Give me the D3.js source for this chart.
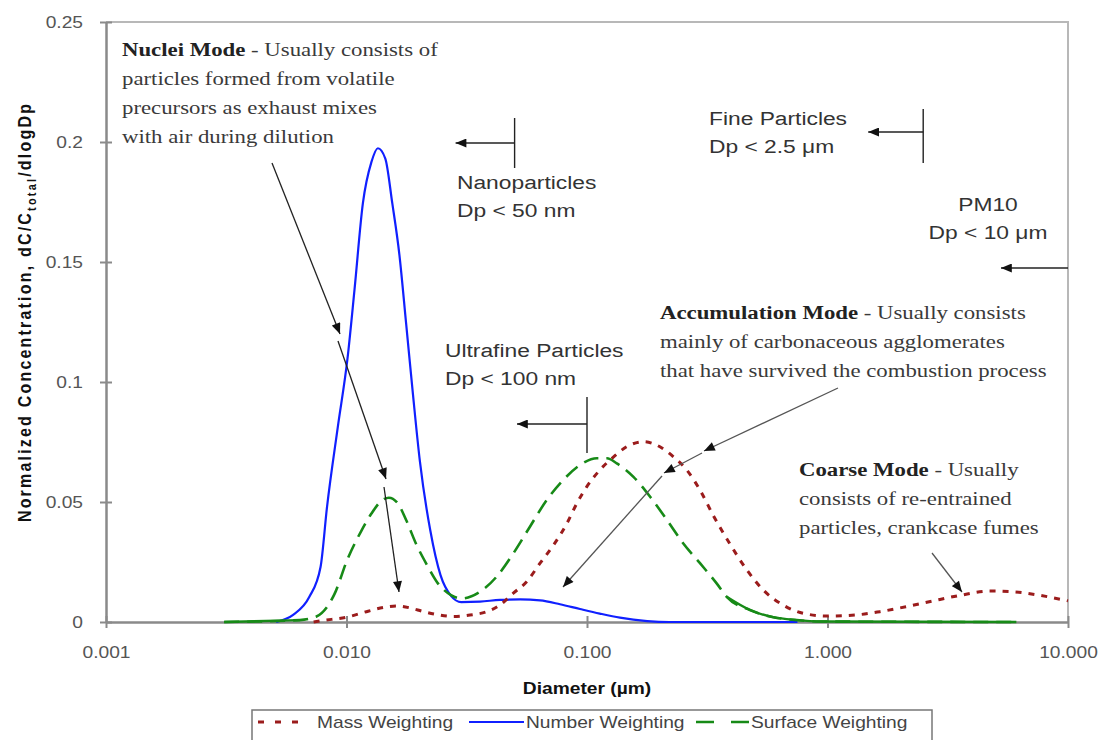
<!DOCTYPE html>
<html><head><meta charset="utf-8">
<script src="https://cdn.jsdelivr.net/npm/d3@7"></script>
<style>
html,body{margin:0;padding:0;background:#fff;}
svg{display:block;}
</style></head><body>
<svg id="chart" width="1110" height="740"></svg>
<script>
// ---- particle size distributions (diameter in µm, normalized dC/Ctotal/dlogDp) ----
const dpNumber = [0.0051, 0.0060, 0.0070, 0.0078, 0.0083, 0.0092, 0.0101, 0.0108, 0.0117, 0.0127, 0.0135, 0.0145, 0.0155, 0.0166, 0.0177, 0.0189, 0.0202, 0.0223, 0.0246, 0.0272, 0.0300, 0.0359, 0.0435, 0.0527, 0.0638, 0.0772, 0.0935, 0.113, 0.137, 0.178, 0.22, 0.75];
const numberWeighting = [0, 0.003, 0.0104, 0.0229, 0.048, 0.0812, 0.1099, 0.1386, 0.1745, 0.1917, 0.1974, 0.1931, 0.1745, 0.1529, 0.1243, 0.0947, 0.0668, 0.0382, 0.0195, 0.0109, 0.0083, 0.0085, 0.0092, 0.0094, 0.0090, 0.0074, 0.0054, 0.0035, 0.0018, 0.0004, 0, 0];

const dpSurface = [0.0031, 0.0064, 0.0075, 0.0089, 0.0101, 0.0115, 0.0127, 0.0141, 0.0150, 0.0163, 0.0177, 0.0195, 0.0216, 0.0238, 0.0272, 0.0300, 0.0359, 0.0421, 0.0494, 0.0579, 0.0680, 0.0797, 0.0935, 0.110, 0.121, 0.133, 0.156, 0.183, 0.215, 0.251, 0.295, 0.346, 0.381, 0.476, 0.595, 0.745, 0.93, 6.1];
const surfaceWeighting = [0, 0.0008, 0.0023, 0.0115, 0.0262, 0.0378, 0.0452, 0.0508, 0.0518, 0.0496, 0.0425, 0.0324, 0.0238, 0.0166, 0.0112, 0.0098, 0.0126, 0.0189, 0.0286, 0.0397, 0.0508, 0.0592, 0.0654, 0.0682, 0.0682, 0.0661, 0.0605, 0.0522, 0.0425, 0.0328, 0.0245, 0.0161, 0.0105, 0.0050, 0.0020, 0.0008, 0.0002, 0];

const dpMass = [0.0073, 0.0078, 0.0100, 0.0123, 0.0145, 0.0162, 0.0185, 0.0208, 0.0237, 0.0278, 0.0326, 0.0383, 0.0435, 0.0494, 0.0561, 0.0638, 0.0725, 0.0824, 0.0906, 0.0997, 0.113, 0.129, 0.146, 0.172, 0.201, 0.229, 0.260, 0.295, 0.335, 0.393, 0.462, 0.541, 0.655, 0.793, 1.00, 1.30, 1.65, 2.13, 2.75, 3.56, 4.74, 5.90, 7.65, 10.0];
const massWeighting = [0, 0.0005, 0.0020, 0.0045, 0.0062, 0.0067, 0.0058, 0.0044, 0.0031, 0.0023, 0.0029, 0.0043, 0.0071, 0.0120, 0.0168, 0.0245, 0.0320, 0.0410, 0.0493, 0.0563, 0.0633, 0.0688, 0.0730, 0.0751, 0.0730, 0.0688, 0.0633, 0.0550, 0.0444, 0.0325, 0.0217, 0.0133, 0.0070, 0.0036, 0.0025, 0.0029, 0.0043, 0.0064, 0.0088, 0.0111, 0.0129, 0.0126, 0.0111, 0.0088];

const xTicks = [0.001, 0.01, 0.1, 1, 10];
const yTicks = [0, 0.05, 0.1, 0.15, 0.2, 0.25];
const seriesNames = ["Mass Weighting", "Number Weighting", "Surface Weighting"];

// ---- layout ----
const svg = d3.select("#chart");
const plot = {left: 106, right: 1068, top: 22, bottom: 622};
const SX = 1.2;                       // horizontal glyph stretch used for all text
const SANS = "'Liberation Sans', Arial, sans-serif";
const SERIF = "'Liberation Serif', 'Times New Roman', serif";
const AXIS_GREY = "#8a8a8a";

const x = d3.scaleLog().domain([0.001, 10]).range([plot.left, plot.right]);
const y = d3.scaleLinear().domain([0, 0.25]).range([plot.bottom, plot.top]);

svg.append("rect").attr("width", 1110).attr("height", 740).attr("fill", "#fff");

// arrowhead marker
const defs = svg.append("defs");
defs.append("marker").attr("id", "head")
  .attr("viewBox", "0 0 12 10").attr("refX", 12).attr("refY", 5)
  .attr("markerWidth", 12).attr("markerHeight", 9)
  .attr("markerUnits", "userSpaceOnUse").attr("orient", "auto")
  .append("path").attr("d", "M0,0L12,5L0,10Z").attr("fill", "#111");

// plot frame (top and right edges)
svg.append("path")
  .attr("d", `M${x(0.001)},${y(0.25)}H${x(10)}V${y(0)}`)
  .attr("fill", "none").attr("stroke", "#b8b8b8").attr("stroke-width", 2);

// y axis
const gy = svg.append("g").attr("transform", `translate(${plot.left},0)`)
  .call(d3.axisLeft(y).tickValues(yTicks).tickFormat(d3.format("~g"))
    .tickSizeInner(6).tickSizeOuter(0).tickPadding(17));
gy.select(".domain").attr("stroke", AXIS_GREY).attr("stroke-width", 2.5);
gy.selectAll(".tick line").attr("x1", 6).attr("stroke", AXIS_GREY).attr("stroke-width", 2);
gy.selectAll(".tick text").attr("x", -23 / SX).attr("transform", `scale(${SX},1)`)
  .attr("font-family", SANS).attr("font-size", 16).attr("fill", "#555");

// x axis
const gx = svg.append("g").attr("transform", `translate(0,${plot.bottom})`)
  .call(d3.axisBottom(x).tickValues(xTicks).tickFormat(d3.format(".3f"))
    .tickSizeInner(6).tickSizeOuter(0).tickPadding(19));
gx.select(".domain").attr("stroke", AXIS_GREY).attr("stroke-width", 2.5);
gx.selectAll(".tick line").attr("y1", -6).attr("stroke", AXIS_GREY).attr("stroke-width", 2);
gx.selectAll(".tick text").attr("transform", `scale(${SX},1)`)
  .attr("font-family", SANS).attr("font-size", 16).attr("fill", "#555");

// axis titles
svg.append("text")
  .attr("transform", `translate(587,694) scale(${SX},1)`)
  .attr("text-anchor", "middle").attr("font-family", SANS).attr("font-weight", "bold")
  .attr("font-size", 16).attr("fill", "#111").text("Diameter (µm)");

const yTitle = svg.append("text")
  .attr("transform", `translate(31,312) scale(${SX},1) rotate(-90)`)
  .attr("text-anchor", "middle").attr("font-family", SANS).attr("font-weight", "bold")
  .attr("font-size", 16).attr("fill", "#111").attr("letter-spacing", 2.2);
yTitle.append("tspan").text("Normalized Concentration, dC/C");
yTitle.append("tspan").attr("font-size", 11).attr("dy", 4).text("total");
yTitle.append("tspan").attr("dy", -4).text("/dlogDp");

// ---- curves ----
const zip = (dp, v) => dp.map((d, i) => ({dp: d, v: v[i]}));
const massData = zip(dpMass, massWeighting);
const numberData = zip(dpNumber, numberWeighting);
const surfaceData = zip(dpSurface, surfaceWeighting);

const line = d3.line().x(d => x(d.dp)).y(d => y(d.v)).curve(d3.curveMonotoneX);

const styles = {
  "Mass Weighting":    {color: "#9b1c1c", width: 3,   dash: "6,7"},
  "Number Weighting":  {color: "#1020ff", width: 2.2, dash: null},
  "Surface Weighting": {color: "#178a17", width: 2.6, dash: "15,8"}
};

svg.append("path").datum(numberData).attr("d", line)
  .attr("fill", "none").attr("stroke", styles["Number Weighting"].color)
  .attr("stroke-width", styles["Number Weighting"].width);

svg.append("path").datum(surfaceData).attr("d", line)
  .attr("fill", "none").attr("stroke", styles["Surface Weighting"].color)
  .attr("stroke-width", styles["Surface Weighting"].width)
  .attr("stroke-dasharray", styles["Surface Weighting"].dash);
// the flat tails of the surface curve render as a continuous stroke
[surfaceData.filter(d => d.dp <= 0.0064), surfaceData.filter(d => d.dp >= 0.381)].forEach(part => {
  svg.append("path").datum(part).attr("d", line)
    .attr("fill", "none").attr("stroke", styles["Surface Weighting"].color)
    .attr("stroke-width", 2.4);
});

svg.append("path").datum(massData).attr("d", line)
  .attr("fill", "none").attr("stroke", styles["Mass Weighting"].color)
  .attr("stroke-width", styles["Mass Weighting"].width)
  .attr("stroke-dasharray", styles["Mass Weighting"].dash);

// ---- size class boundaries ----
const sizeClasses = [
  {dp: 0.05, lines: ["Nanoparticles", "Dp < 50 nm"],        tx: 457, ty: 189, anchor: "start",  vTop: 118, vBot: 168, ay: 143, len: 59},
  {dp: 0.1,  lines: ["Ultrafine Particles", "Dp < 100 nm"], tx: 445, ty: 357, anchor: "start",  vTop: 397, vBot: 453, ay: 424, len: 70},
  {dp: 2.5,  lines: ["Fine Particles", "Dp < 2.5 μm"],      tx: 709, ty: 125, anchor: "start",  vTop: 109, vBot: 163, ay: 132, len: 55},
  {dp: 10,   lines: ["PM10", "Dp < 10 μm"],                  tx: 988, ty: 211, anchor: "middle", vTop: null, vBot: null, ay: 268, len: 67}
];
sizeClasses.forEach(c => {
  const bx = x(c.dp);
  if (c.vTop !== null) {
    svg.append("line").attr("x1", bx).attr("x2", bx).attr("y1", c.vTop).attr("y2", c.vBot)
      .attr("stroke", "#222").attr("stroke-width", 1.4);
  }
  svg.append("line").attr("x1", bx).attr("x2", bx - c.len).attr("y1", c.ay).attr("y2", c.ay)
    .attr("stroke", "#222").attr("stroke-width", 1.4).attr("marker-end", "url(#head)");
  c.lines.forEach((s, i) => {
    svg.append("text").attr("transform", `translate(${c.tx},${c.ty + i * 28}) scale(${SX},1)`)
      .attr("text-anchor", c.anchor).attr("font-family", SANS).attr("font-size", 19)
      .attr("fill", "#333").text(s);
  });
});

// ---- mode descriptions ----
const modeNotes = [
  {x: 122, y: 56, lines: [
    [{t: "Nuclei Mode", b: true}, {t: " - Usually consists of"}],
    [{t: "particles formed from volatile"}],
    [{t: "precursors as exhaust mixes"}],
    [{t: "with air during dilution"}]]},
  {x: 660, y: 319, lines: [
    [{t: "Accumulation Mode", b: true}, {t: " - Usually consists"}],
    [{t: "mainly of carbonaceous agglomerates"}],
    [{t: "that have survived the combustion process"}]]},
  {x: 799, y: 476, lines: [
    [{t: "Coarse Mode", b: true}, {t: " - Usually"}],
    [{t: "consists of re-entrained"}],
    [{t: "particles, crankcase fumes"}]]}
];
modeNotes.forEach(n => {
  n.lines.forEach((parts, i) => {
    const t = svg.append("text").attr("transform", `translate(${n.x},${n.y + i * 29}) scale(${SX},1)`)
      .attr("font-family", SERIF).attr("font-size", 19).attr("fill", "#3a3a3a");
    parts.forEach(p => t.append("tspan").attr("font-weight", p.b ? "bold" : "normal")
      .attr("fill", p.b ? "#222" : null).text(p.t));
  });
});

// pointer arrows from the mode descriptions to the curves
const pointers = [
  {pts: [[272, 163], [340, 334]], color: "#222"},
  {pts: [[338, 341], [386, 479]], color: "#222"},
  {pts: [[384, 487], [399, 592]], color: "#222"},
  {pts: [[838, 388], [704, 451]], color: "#555"},
  {pts: [[702, 453], [664, 473]], color: "#555"},
  {pts: [[662, 476], [563, 587]], color: "#555"},
  {pts: [[932, 553], [962, 592]], color: "#555"}
];
pointers.forEach(p => {
  svg.append("line").attr("x1", p.pts[0][0]).attr("y1", p.pts[0][1])
    .attr("x2", p.pts[1][0]).attr("y2", p.pts[1][1])
    .attr("stroke", p.color).attr("stroke-width", 1.3).attr("marker-end", "url(#head)");
});

// ---- legend ----
const legend = svg.append("g");
legend.append("rect").attr("x", 252).attr("y", 710).attr("width", 680).attr("height", 31)
  .attr("fill", "#fff").attr("stroke", "#777").attr("stroke-width", 1.5);
const legendSlots = [{x0: 258, x1: 302, tx: 317}, {x0: 469, x1: 524, tx: 526}, {x0: 696, x1: 749, tx: 751}];
seriesNames.forEach((name, i) => {
  const s = styles[name], slot = legendSlots[i];
  legend.append("line").attr("x1", slot.x0).attr("x2", slot.x1).attr("y1", 722).attr("y2", 722)
    .attr("stroke", s.color).attr("stroke-width", s.width)
    .attr("stroke-dasharray", name === "Mass Weighting" ? "6,11" : (s.dash ? "18,17" : null));
  legend.append("text").attr("transform", `translate(${slot.tx},728) scale(${SX},1)`)
    .attr("font-family", SANS).attr("font-size", 16).attr("fill", "#444").text(name);
});
</script>
</body></html>
